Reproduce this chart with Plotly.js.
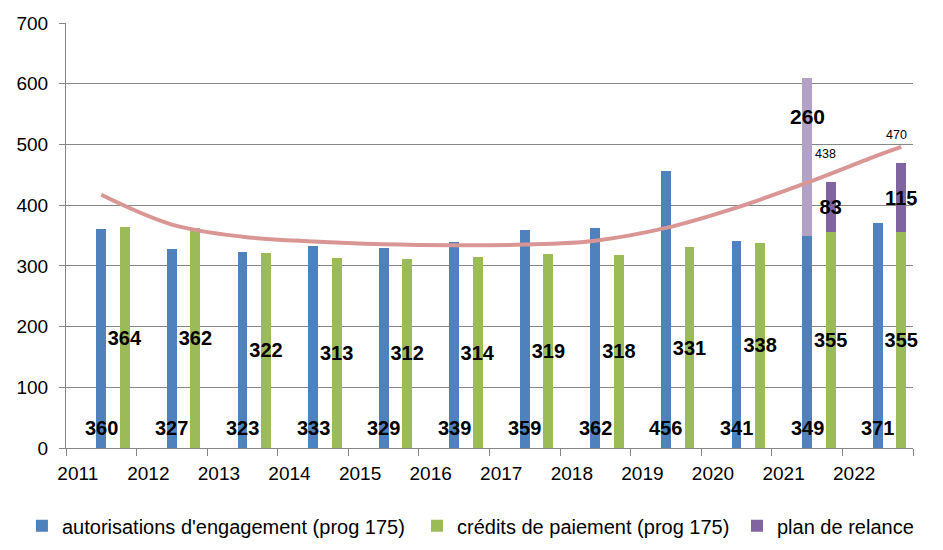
<!DOCTYPE html>
<html>
<head>
<meta charset="utf-8">
<script src="https://cdn.plot.ly/plotly-3.0.1.min.js"></script>
<style>
  html, body { margin: 0; padding: 0; background: #ffffff; }
  #chart { width: 943px; height: 550px; }
</style>
</head>
<body>
<div id="chart"></div>
<script>
// ---- data ----
const years = ['2011','2012','2013','2014','2015','2016','2017','2018','2019','2020','2021','2022'];
const autorisations = [360, 327, 323, 333, 329, 339, 359, 362, 456, 341, 349, 371];
const credits = [364, 362, 322, 313, 312, 314, 319, 318, 331, 338, 355, 355];
const relanceAE = [null, null, null, null, null, null, null, null, null, null, 260, null];
const relanceCP = [null, null, null, null, null, null, null, null, null, null, 83, 115];
// trend curve values read at each year's AE bar, plus its end point at the last CP bar
const trendValues = [417, 368, 348, 340, 335.5, 334, 335, 341.5, 362.5, 396, 437, 482];
const trendEnd = 496;

// ---- positions: each year takes 3 category slots (label, AE, CP) ----
const labelX = years.map((_, i) => 3 * i + 0.5);
const aeX = years.map((_, i) => 3 * i + 1.5);
const cpX = years.map((_, i) => 3 * i + 2.5);
const boundaries = Array.from({length: years.length + 1}, (_, i) => 3 * i);

const FONT = 'Liberation Sans, Arial, sans-serif';
const barW = 0.42;
const labelFont = {family: FONT, size: 20, color: '#000000', weight: 'bold'};

const traces = [
  {
    type: 'bar', name: "autorisations d'engagement (prog 175)", legend: 'legend',
    x: aeX, y: autorisations, width: barW,
    marker: {color: '#4F81BD'},
    hoverinfo: 'skip'
  },
  {
    type: 'bar', name: 'relance AE', showlegend: false,
    x: aeX, y: relanceAE, width: barW,
    marker: {color: '#B3A2C7'},
    hoverinfo: 'skip'
  },
  {
    type: 'bar', name: 'crédits de paiement (prog 175)', legend: 'legend2',
    x: cpX, y: credits, width: barW,
    marker: {color: '#9BBB59'},
    text: credits.map(String), textposition: 'inside', insidetextanchor: 'middle',
    textangle: 0, textfont: labelFont, constraintext: 'none', cliponaxis: false,
    hoverinfo: 'skip'
  },
  {
    type: 'bar', name: 'plan de relance', legend: 'legend3',
    x: cpX, y: relanceCP, width: barW,
    marker: {color: '#8064A2'},
    text: relanceCP.map(v => v == null ? '' : String(v)), textposition: 'inside', insidetextanchor: 'middle',
    textangle: 0, textfont: labelFont, constraintext: 'none', cliponaxis: false,
    hoverinfo: 'skip'
  },
  {
    type: 'scatter', mode: 'lines', showlegend: false,
    x: aeX.concat([cpX[cpX.length - 1]]), y: trendValues.concat([trendEnd]),
    line: {color: '#D99694', width: 4, shape: 'spline'},
    hoverinfo: 'skip'
  }
];

const annotations = [];
// AE value labels, just above the base of each AE bar
autorisations.forEach((v, i) => {
  annotations.push({
    x: aeX[i], y: 0, xref: 'x', yref: 'y',
    text: String(v), showarrow: false, yanchor: 'middle', yshift: 20,
    font: labelFont
  });
});
relanceAE.forEach((v, i) => {
  if (v != null) {
    annotations.push({
      x: aeX[i], y: autorisations[i] + v, xref: 'x', yref: 'y',
      text: String(v), showarrow: false, yanchor: 'middle', yshift: -38,
      font: {family: FONT, size: 21, color: '#000000', weight: 'bold'}
    });
  }
});
relanceCP.forEach((v, i) => {
  if (v != null) {
    annotations.push({
      x: cpX[i], y: credits[i] + v, xref: 'x', yref: 'y',
      text: String(credits[i] + v), showarrow: false, yanchor: 'middle', yshift: 28, xshift: -5,
      font: {family: FONT, size: 12.5, color: '#000000'}
    });
  }
});

const legendBase = {
  orientation: 'h', yref: 'container', yanchor: 'middle', y: 0.0442, xanchor: 'left',
  font: {family: FONT, size: 20, color: '#000000'},
  itemwidth: 30, bgcolor: 'rgba(0,0,0,0)', borderwidth: 0
};

const layout = {
  width: 943, height: 550,
  margin: {l: 66, r: 30, t: 23, b: 102, pad: 0},
  paper_bgcolor: '#ffffff', plot_bgcolor: '#ffffff',
  barmode: 'stack',
  showlegend: true,
  uniformtext: {mode: 'show', minsize: 20},
  font: {family: FONT, size: 19, color: '#000000'},
  xaxis: {
    range: [0, 36], fixedrange: true,
    tickmode: 'array', tickvals: labelX, ticktext: years,
    ticks: '', ticklen: 0, showgrid: false, zeroline: false,
    showline: true, linecolor: '#868686', linewidth: 1,
    tickfont: {family: FONT, size: 19, color: '#000000'},
    ticklabelstandoff: 8,
    minor: {tickmode: 'array', tickvals: boundaries, ticks: 'outside', ticklen: 7, tickcolor: '#868686', tickwidth: 1, showgrid: false}
  },
  yaxis: {
    range: [0, 700], fixedrange: true,
    tickmode: 'array', tickvals: [0, 100, 200, 300, 400, 500, 600, 700],
    ticks: 'outside', ticklen: 6, tickcolor: '#868686', tickwidth: 1,
    showgrid: true, gridcolor: '#868686', gridwidth: 1,
    zeroline: false, showline: true, linecolor: '#868686', linewidth: 1,
    tickfont: {family: FONT, size: 19, color: '#000000'},
    ticklabelstandoff: 7
  },
  legend: Object.assign({}, legendBase, {x: -0.052}),
  legend2: Object.assign({}, legendBase, {x: 0.4144}),
  legend3: Object.assign({}, legendBase, {x: 0.7922}),
  annotations: annotations
};

Plotly.newPlot('chart', traces, layout, {displayModeBar: false, staticPlot: true});
</script>
</body>
</html>
